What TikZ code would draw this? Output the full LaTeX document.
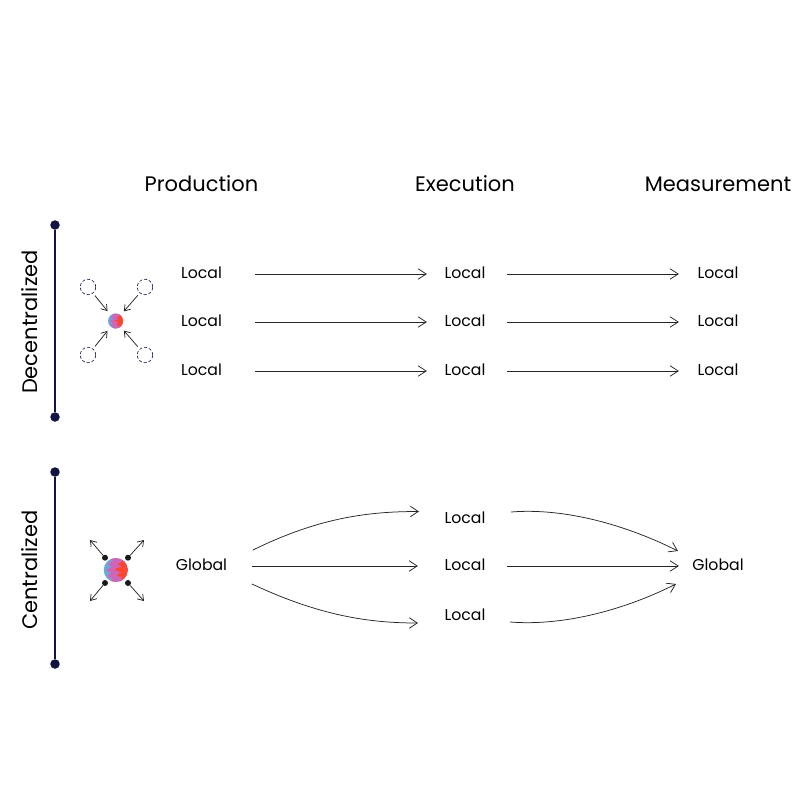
\documentclass[tikz,border=0pt]{standalone}
\usepackage{fontspec}
\setmainfont{Poppins}
\usepackage{tikz}
\usetikzlibrary{arrows.meta,positioning,calc}
\definecolor{darknavy}{RGB}{20,20,66}
\definecolor{orbblue}{RGB}{96,176,224}
\definecolor{orbpink}{RGB}{228,88,176}
\definecolor{orbred}{RGB}{252,70,46}
\newcommand{\orbspikes}[2]{%
  \begin{scope}[shift={(#1)}, scale=#2]
    \clip (0,0) circle (1);
    \fill[orbpink!85!orbblue] (-0.55,-1) -- (-0.2,-0.75) -- (-0.65,-0.5) -- (-0.3,-0.25) -- (-0.8,0) -- (-0.35,0.25)
      -- (-0.7,0.5) -- (-0.25,0.75) -- (-0.5,1) -- (1,1) -- (1,-1) -- cycle;
    \fill[orbred] (0.4,-1) -- (0.6,-0.7) -- (0.15,-0.5) -- (0.5,-0.3) -- (-0.1,-0.05) -- (0.45,0.2)
      -- (0.1,0.45) -- (0.55,0.65) -- (0.35,1) -- (1,1) -- (1,-1) -- cycle;
  \end{scope}}
\tikzset{
  head/.style={font=\fontsize{21}{24}\selectfont, text=black, text height=16pt, text depth=6pt},
  side/.style={font=\fontsize{21}{24}\selectfont, text=black, rotate=90, text height=16pt, text depth=6pt},
  cell/.style={font=\fontsize{15.7}{18}\selectfont, text=black, inner sep=0pt, text width=52pt, align=center, text height=12pt, text depth=4pt},
  flow/.style={-{Straight Barb[length=8pt,width=10.5pt]}, line width=0.75pt, black!85},
  tiny flow/.style={-{Straight Barb[length=5.5pt,width=7.5pt]}, line width=0.75pt, black!85},
  bar/.style={line width=2.4pt, darknavy},
  bar end/.style={circle, fill=darknavy, minimum size=9.5pt, inner sep=0pt},
  ghost/.style={circle, draw=darknavy, densely dashed, line width=0.6pt, minimum size=15.5pt, inner sep=0pt},
  seed/.style={circle, fill=black!90, minimum size=6pt, inner sep=0pt},
  orb/.style={circle, minimum size=2*#1, inner sep=0pt, left color=orbblue, right color=orbpink},
}
\begin{document}
\begin{tikzpicture}[x=1pt, y=-1pt]
    \useasboundingbox (0,0) rectangle (806,803);

    % Column titles
    \node[head] (title prod) at (201.5,186) {Production};
    \node[head] (title exec) at (465,186) {Execution};
    \node[head] (title meas) at (718,186) {Measurement};

    % Decentralized bar
    \node[bar end] (dec top) at (55,225) {};
    \node[bar end] (dec bot) at (55,417) {};
    \draw[bar] (dec top) -- (dec bot);
    \node[side] (dec label) at (32.5,322) {Decentralized};

    % Centralized bar
    \node[bar end] (cen top) at (55,472) {};
    \node[bar end] (cen bot) at (55,664) {};
    \draw[bar] (cen top) -- (cen bot);
    \node[side] (cen label) at (32.5,570) {Centralized};

    % Small orb with dashed sources
    \node[orb=7.5pt] (small orb) at (115.5,321) {};
    \orbspikes{small orb}{7.5}
    \node[ghost] (ghost a) at (88,287) {};
    \node[ghost] (ghost b) at (145,287) {};
    \node[ghost] (ghost c) at (88,355) {};
    \node[ghost] (ghost d) at (145,355) {};
    \draw[tiny flow, shorten <=3pt, shorten >=5pt] (ghost a) -- (small orb);
    \draw[tiny flow, shorten <=3pt, shorten >=5pt] (ghost b) -- (small orb);
    \draw[tiny flow, shorten <=3pt, shorten >=5pt] (ghost c) -- (small orb);
    \draw[tiny flow, shorten <=3pt, shorten >=5pt] (ghost d) -- (small orb);

    % Large orb with outgoing arrows
    \node[orb=12pt] (large orb) at (115.7,570) {};
    \orbspikes{large orb}{12}
    \node[seed] (seed a) at (105,557.7) {};
    \node[seed] (seed b) at (128,557.7) {};
    \node[seed] (seed c) at (105,583) {};
    \node[seed] (seed d) at (128,583) {};
    \coordinate (tip a) at (90,540);
    \coordinate (tip b) at (144,540);
    \coordinate (tip c) at (90,601);
    \coordinate (tip d) at (144,601);
    \draw[tiny flow] (seed a) -- (tip a);
    \draw[tiny flow] (seed b) -- (tip b);
    \draw[tiny flow] (seed c) -- (tip c);
    \draw[tiny flow] (seed d) -- (tip d);

    % Decentralized rows
    \node[cell] (prod a) at (201.5,274) {Local};
    \node[cell] (prod b) at (201.5,322) {Local};
    \node[cell] (prod c) at (201.5,371) {Local};
    \node[cell] (exec a) at (465,274) {Local};
    \node[cell] (exec b) at (465,322) {Local};
    \node[cell] (exec c) at (465,371) {Local};
    \node[cell] (meas a) at (718,274) {Local};
    \node[cell] (meas b) at (718,322) {Local};
    \node[cell] (meas c) at (718,371) {Local};
    \draw[flow, shorten <=27.5pt, shorten >=12pt] (prod a) -- (exec a);
    \draw[flow, shorten <=27.5pt, shorten >=12pt] (prod b) -- (exec b);
    \draw[flow, shorten <=27.5pt, shorten >=12pt] (prod c) -- (exec c);
    \draw[flow, shorten <=16pt, shorten >=13pt] (exec a) -- (meas a);
    \draw[flow, shorten <=16pt, shorten >=13pt] (exec b) -- (meas b);
    \draw[flow, shorten <=16pt, shorten >=13pt] (exec c) -- (meas c);

    % Centralized rows
    \node[cell] (prod g) at (201.5,566) {Global};
    \node[cell] (exec d) at (465,519) {Local};
    \node[cell] (exec e) at (465,566) {Local};
    \node[cell] (exec f) at (465,616) {Local};
    \node[cell] (meas g) at (718,566) {Global};
    \coordinate (out a) at (253,550);
    \coordinate (in a) at (419,511.5);
    \coordinate (out c) at (252,584);
    \coordinate (in c) at (418,623);
    \coordinate (back a) at (511,512);
    \coordinate (join a) at (678,551);
    \coordinate (back c) at (510,622);
    \coordinate (join c) at (676,584);
    \draw[flow] (out a) .. controls (320,517) and (370,511.5) .. (in a);
    \draw[flow, shorten <=24.5pt, shorten >=21pt] (prod g) -- (exec e);
    \draw[flow] (out c) .. controls (320,616) and (370,623) .. (in c);
    \draw[flow] (back a) .. controls (560,508) and (620,522) .. (join a);
    \draw[flow, shorten <=16pt, shorten >=13pt] (exec e) -- (meas g);
    \draw[flow] (back c) .. controls (560,626) and (620,612) .. (join c);
\end{tikzpicture}
\end{document}
